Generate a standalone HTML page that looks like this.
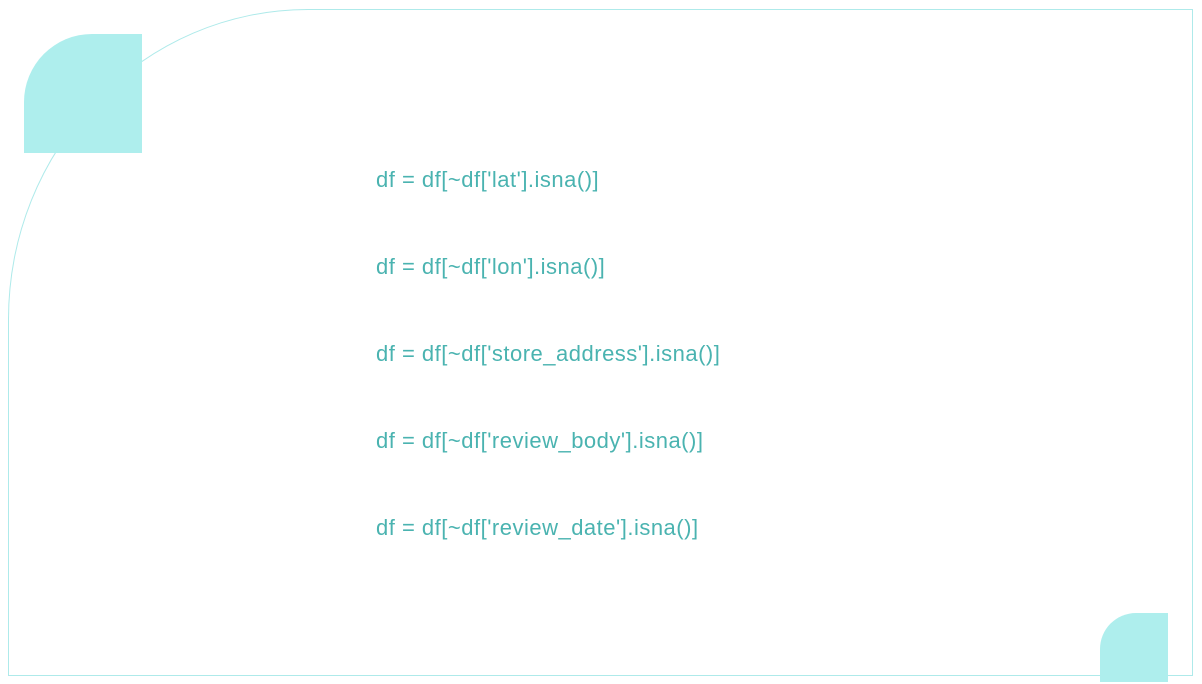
<!DOCTYPE html>
<html><head><style>
html,body{margin:0;padding:0;background:#fff;}
body{width:1202px;height:684px;position:relative;overflow:hidden;}
.frame{position:absolute;left:8px;top:9px;width:1185px;height:667px;border:1px solid #aeeaea;border-top-left-radius:300px 310px;box-sizing:border-box;}
.sq1{position:absolute;left:24px;top:34px;width:118px;height:119px;background:#aeeeed;border-top-left-radius:68px;}
.sq2{position:absolute;left:1100px;top:613px;width:68px;height:69px;background:#aeeeed;border-top-left-radius:36px;}
.t{position:absolute;left:376px;font-family:"Liberation Sans",sans-serif;font-size:22px;color:#4ab3b0;letter-spacing:0.5px;white-space:nowrap;line-height:26px;}
</style></head><body>
<div class="frame"></div>
<div class="sq1"></div>
<div class="sq2"></div>
<div class="t" style="top:167px">df = df[~df['lat'].isna()]</div>
<div class="t" style="top:254px">df = df[~df['lon'].isna()]</div>
<div class="t" style="top:341px">df = df[~df['store_address'].isna()]</div>
<div class="t" style="top:428px">df = df[~df['review_body'].isna()]</div>
<div class="t" style="top:515px">df = df[~df['review_date'].isna()]</div>
</body></html>
